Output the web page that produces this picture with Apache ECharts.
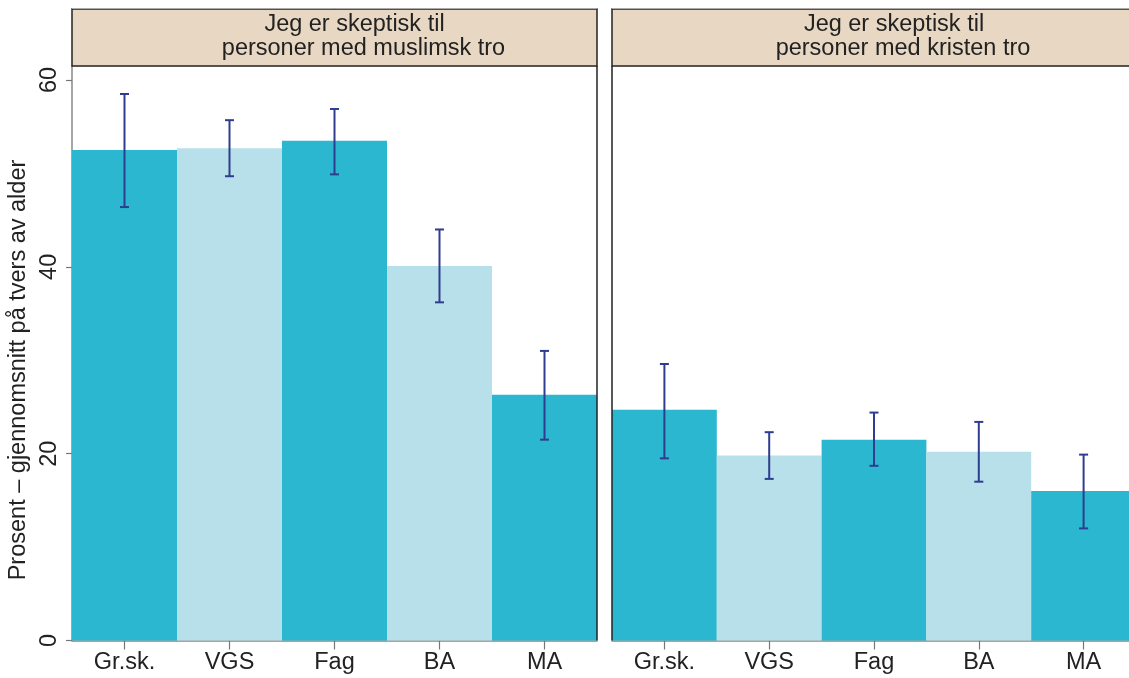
<!DOCTYPE html>
<html><head><meta charset="utf-8">
<script src="https://cdn.jsdelivr.net/npm/echarts@6/dist/echarts.min.js"></script>
<style>html,body{margin:0;padding:0;background:#fff;overflow:hidden}#c{width:1140px;height:678px}</style>
</head><body><div id="c"></div>
<script>
const categories = ['Gr.sk.', 'VGS', 'Fag', 'BA', 'MA'];
const titleLine1 = ['Jeg er skeptisk til', 'Jeg er skeptisk til'];
const titleLine2 = ['personer med muslimsk tro', 'personer med kristen tro'];
const yTitle = 'Prosent – gjennomsnitt på tvers av alder';
const muslimMean = [52.5, 52.7, 53.5, 40.1, 26.3];
const muslimLow  = [46.4, 49.7, 49.9, 36.2, 21.5];
const muslimHigh = [58.5, 55.7, 56.9, 44.0, 31.0];
const kristenMean = [24.7, 19.8, 21.5, 20.2, 16.0];
const kristenLow  = [19.5, 17.3, 18.7, 17.0, 12.0];
const kristenHigh = [29.6, 22.3, 24.4, 23.4, 19.9];
const yTicks = [0, 20, 40, 60];

const dark = '#2BB7CF', light = '#B8E0EA', errColor = '#2E3D8F';
const font = "'Liberation Sans', Arial, Helvetica, sans-serif";
const FS = 23.5;
const chart = echarts.init(document.getElementById('c'));

const panelX = [[72, 597], [612, 1136]];
const grids = panelX.map(p => ({left: p[0], top: 66, width: p[1]-p[0], height: 574.5}));

function xAxis(i){
  return {type:'category', gridIndex:i, data:categories,
    axisLine:{show:true, lineStyle:{color:'#888', width:1.5}},
    axisTick:{show:true, alignWithLabel:true, length:9, lineStyle:{color:'#777', width:1.2}},
    axisLabel:{color:'#222', fontSize:FS, fontFamily:font, margin:10}};
}
function yAxis(i){
  return {type:'value', gridIndex:i, min:0, max:61.5, interval:20,
    splitLine:{show:false},
    axisLine:{show:i===0, lineStyle:{color:'#888', width:1.5}},
    axisTick:{show:i===0, length:6, lineStyle:{color:'#777', width:1.2}},
    axisLabel:{show:i===0, showMaxLabel:false, rotate:90, color:'#222', fontSize:FS, fontFamily:font, margin:10,
      formatter: v => yTicks.includes(v) ? String(v) : ''}};
}
function barSeries(i, vals){
  return {type:'bar', xAxisIndex:i, yAxisIndex:i, barCategoryGap:'0%', barGap:'0%',
    data: vals.map((v,k)=>({value:v, itemStyle:{color: k%2===0 ? dark : light}})),
    silent:true};
}
function errSeries(i, lo, hi){
  return {type:'custom', xAxisIndex:i, yAxisIndex:i, z:5,
    data: lo.map((l,k)=>[k, l, hi[k]]),
    renderItem:(params, api)=>{
      const a = api.coord([api.value(0), api.value(1)]);
      const b = api.coord([api.value(0), api.value(2)]);
      const w = 4.5;
      const st = {stroke:errColor, lineWidth:2};
      return {type:'group', children:[
        {type:'line', shape:{x1:a[0], y1:a[1], x2:b[0], y2:b[1]}, style:st},
        {type:'line', shape:{x1:a[0]-w, y1:a[1], x2:a[0]+w, y2:a[1]}, style:st},
        {type:'line', shape:{x1:b[0]-w, y1:b[1], x2:b[0]+w, y2:b[1]}, style:st}
      ]};
    }};
}

const graphics = [];
panelX.forEach((p,i)=>{
  const cx = (p[0]+p[1])/2;
  graphics.push({type:'rect', shape:{x:p[0], y:9, width:p[1]-p[0], height:57},
    style:{fill:'#E8D8C3', stroke:'#222', lineWidth:1.5}, z:10});
  graphics.push({type:'line', shape:{x1:p[0], y1:8.5, x2:p[1], y2:8.5}, style:{stroke:'#aaa', lineWidth:1}, z:12});
  graphics.push({type:'text', x:cx+20, y:25,
    style:{text:titleLine1[i], fill:'#222', font:FS + 'px ' + font, textAlign:'center', textVerticalAlign:'middle'}, z:11});
  graphics.push({type:'text', x:cx+29, y:48.5,
    style:{text:titleLine2[i], fill:'#222', font:FS + 'px ' + font, textAlign:'center', textVerticalAlign:'middle'}, z:11});
  graphics.push({type:'line', shape: i===0 ? {x1:p[1], y1:66, x2:p[1], y2:640.5} : {x1:p[0], y1:66, x2:p[0], y2:640.5},
    style:{stroke:'#222', lineWidth:1.5}, z:10});
});
graphics.push({type:'text', x:19, y:370, rotation:Math.PI/2,
  style:{text:yTitle, fill:'#222', font:FS + 'px ' + font, textAlign:'center', textVerticalAlign:'middle'}, z:11});

chart.setOption({
  animation:false,
  grid: grids,
  xAxis: [xAxis(0), xAxis(1)],
  yAxis: [yAxis(0), yAxis(1)],
  series: [barSeries(0, muslimMean), errSeries(0, muslimLow, muslimHigh),
           barSeries(1, kristenMean), errSeries(1, kristenLow, kristenHigh)],
  graphic: graphics
});
</script></body></html>
